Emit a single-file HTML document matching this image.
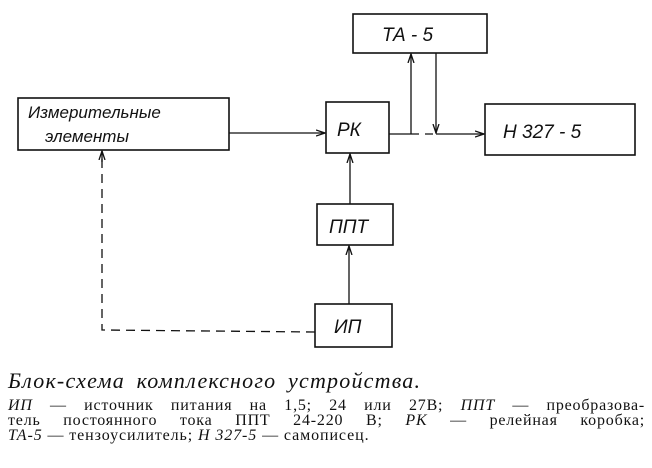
<!DOCTYPE html>
<html><head><meta charset="utf-8"><style>
body{margin:0;background:#fff;width:652px;height:468px;overflow:hidden;position:relative;font-family:"Liberation Serif",serif;}
.t{position:absolute;white-space:nowrap;color:#111;}
.j{position:absolute;left:8px;width:637px;text-align:justify;text-align-last:justify;font-size:16px;line-height:15px;color:#111;white-space:nowrap;letter-spacing:0.8px;}
</style></head><body>
<svg width="652" height="468" style="position:absolute;left:0;top:0" font-family="Liberation Sans, sans-serif">
<defs><marker id="a" markerWidth="10" markerHeight="8" refX="9" refY="4" orient="auto" markerUnits="userSpaceOnUse"><path d="M0,1 L9,4 L0,7" fill="none" stroke="#111" stroke-width="1.3"/></marker></defs>
<g fill="none" stroke="#111" stroke-width="1.6">
<rect x="18" y="98" width="211" height="52"/>
<rect x="326" y="102" width="63" height="51"/>
<rect x="353" y="14" width="134" height="39"/>
<rect x="485" y="104" width="150" height="51"/>
<rect x="317" y="204" width="76" height="41"/>
<rect x="315" y="304" width="77" height="43"/>
</g>
<g fill="none" stroke="#111" stroke-width="1.3">
<line x1="229" y1="133" x2="325" y2="133" marker-end="url(#a)"/>
<line x1="389" y1="134" x2="411" y2="134"/>
<line x1="411" y1="134" x2="411" y2="54" marker-end="url(#a)"/>
<line x1="411" y1="134" x2="436" y2="134" stroke-dasharray="8,6"/>
<line x1="436" y1="53" x2="436" y2="133" marker-end="url(#a)"/>
<line x1="436" y1="134" x2="484" y2="134" marker-end="url(#a)"/>
<line x1="350" y1="204" x2="350" y2="154" marker-end="url(#a)"/>
<line x1="349" y1="304" x2="349" y2="246" marker-end="url(#a)"/>
<polyline points="315,332 102,330 102,152" stroke-dasharray="9,6"/>
<line x1="102" y1="162" x2="102" y2="151" marker-end="url(#a)"/>
</g>
<g font-style="italic" fill="#111" font-size="19">
<text x="28" y="118" font-size="17">Измерительные</text>
<text x="45" y="142" font-size="17">элементы</text>
<text x="337" y="136">РК</text>
<text x="382" y="41">ТА - 5</text>
<text x="503" y="138">Н 327 - 5</text>
<text x="329" y="233">ППТ</text>
<text x="334" y="333">ИП</text>
</g>
</svg>
<div class="t" style="left:8px;top:368px;font-size:22px;font-style:italic;letter-spacing:1.2px;word-spacing:5px;">Блок-схема комплексного устройства.</div>
<div class="j" style="top:398px;"><i>ИП</i> — источник питания на 1,5; 24 или 27В; <i>ППТ</i> — преобразова-</div>
<div class="j" style="top:413px;">тель постоянного тока ППТ 24-220 В; <i>РК</i> — релейная коробка;</div>
<div class="t" style="left:8px;top:428px;font-size:16px;line-height:15px;letter-spacing:0.9px;"><i>ТА-5</i> — тензоусилитель; <i>Н 327-5</i> — самописец.</div>
</body></html>
